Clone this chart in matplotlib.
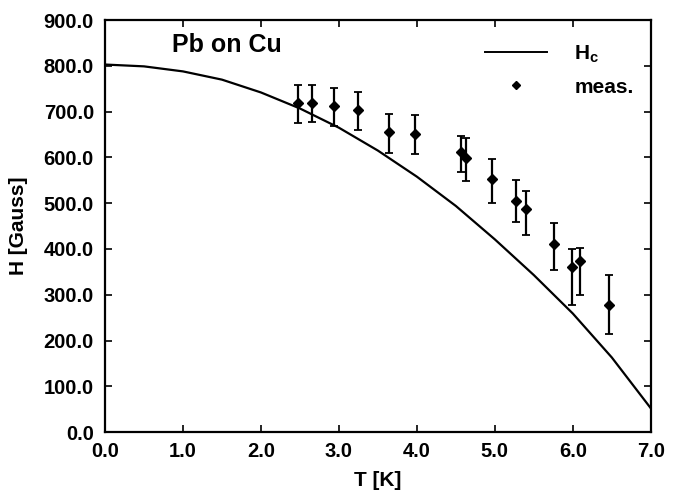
import numpy as np
import matplotlib.pyplot as plt
from matplotlib.lines import Line2D

plt.rcParams['font.family'] = ['Liberation Sans', 'DejaVu Sans']
plt.rcParams['font.weight'] = 'bold'

# Hc curve
t_curve = [0.0, 0.5, 1.0, 1.5, 2.0, 2.5, 3.0, 3.5, 4.0, 4.5, 5.0, 5.5, 6.0, 6.5, 7.0]
h_curve = [803, 799, 788, 770, 742, 707, 665, 615, 558, 494, 421, 343, 259, 163, 52]

# measured points with error bar ends
t_meas = [2.48, 2.65, 2.94, 3.25, 3.64, 3.97, 4.57, 4.63, 4.96, 5.27, 5.40, 5.76, 5.99, 6.09, 6.47]
h_meas = [720, 719, 712, 703, 656, 651, 611, 599, 552, 505, 487, 411, 360, 374, 277]
h_lo = [676, 677, 669, 659, 610, 607, 568, 549, 500, 459, 430, 354, 277, 299, 214]
h_hi = [758, 758, 751, 742, 694, 692, 647, 642, 597, 550, 527, 456, 400, 402, 343]

err = [np.array(h_meas) - np.array(h_lo), np.array(h_hi) - np.array(h_meas)]

fig = plt.figure(figsize=(6.73, 4.91), dpi=100)
ax = fig.add_axes([0.156, 0.120, 0.811, 0.839])

ax.plot(t_curve, h_curve, color='black', lw=1.6)
ax.errorbar(t_meas, h_meas, yerr=err, fmt='D', color='black', ms=5,
            elinewidth=1.6, capsize=3, capthick=1.3)

ax.set_xlim(0, 7)
ax.set_ylim(0, 900)
ax.set_xticks(np.arange(0, 7.01, 1.0))
ax.set_yticks(np.arange(0, 901, 100))
ax.xaxis.set_major_formatter(plt.FormatStrFormatter('%.1f'))
ax.yaxis.set_major_formatter(plt.FormatStrFormatter('%.1f'))
ax.tick_params(direction='in', top=True, right=True, length=5, width=1.2,
               labelsize=14.5)
ax.tick_params(axis='y', pad=8)
ax.tick_params(axis='x', pad=7)
for lab in ax.get_xticklabels() + ax.get_yticklabels():
    lab.set_fontweight('bold')
for s in ax.spines.values():
    s.set_linewidth(1.6)

ax.set_xlabel('T [K]', fontsize=15, fontweight='bold', labelpad=7)
ax.set_ylabel('H [Gauss]', fontsize=15, fontweight='bold', labelpad=11)

ax.text(0.86, 845, 'Pb on Cu', fontsize=18, fontweight='bold', va='center')

handles = [Line2D([], [], color='black', lw=1.4),
           Line2D([], [], ls='none', marker='D', color='black', ms=4)]
leg = ax.legend(handles, ['H$_\\mathregular{c}$', 'meas.'], loc='upper left',
                bbox_to_anchor=(0.696, 0.944), frameon=False, fontsize=15,
                handlelength=3.0, handletextpad=1.3, labelspacing=0.62,
                borderpad=0, borderaxespad=0)
for t in leg.get_texts():
    t.set_fontweight('bold')

fig.savefig('out.png', dpi=100)
